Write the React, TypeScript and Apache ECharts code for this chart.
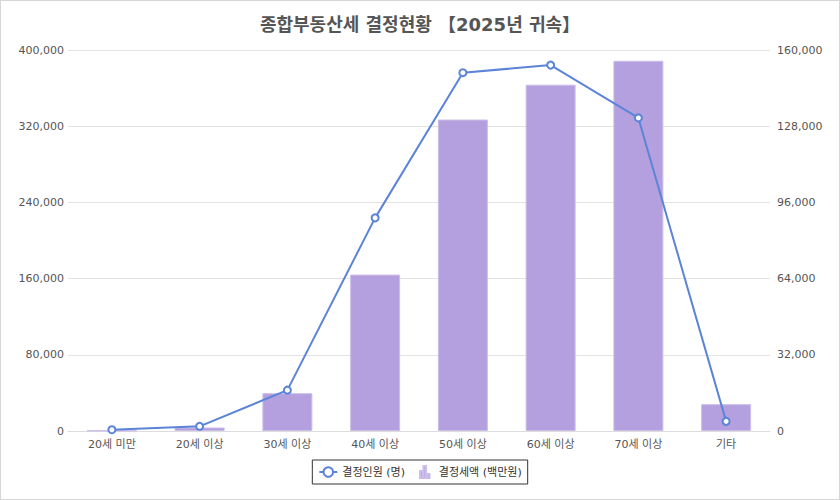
import React, { useEffect, useRef } from "react";
import * as echarts from "echarts";

const categories = ["20세 미만", "20세 이상", "30세 이상", "40세 이상", "50세 이상", "60세 이상", "70세 이상", "기타"];
// 결정세액 (백만원) - left axis
const taxAmount = [500, 3700, 39700, 164200, 327000, 363600, 388700, 28200];
// 결정인원 (명) - right axis
const persons = [540, 1970, 17150, 89500, 150470, 153650, 131480, 4050];
const leftTicks = { min: 0, max: 400000, interval: 80000 };
const rightTicks = { min: 0, max: 160000, interval: 32000 };

const FONT = "'DejaVu Sans', 'Noto Sans CJK KR', sans-serif";

export default function App() {
  const ref = useRef<HTMLDivElement>(null);
  useEffect(() => {
    document.body.style.margin = "0";
    const chart = echarts.init(ref.current!, undefined, { renderer: "svg" });
    const fmt = (v: number) => v.toLocaleString("en-US");
    chart.setOption({
      animation: false,
      backgroundColor: "#fff",
      textStyle: { fontFamily: FONT },
      title: {
        text: "종합부동산세 결정현황 【2025년 귀속】",
        left: "center",
        top: 9,
        textStyle: { fontFamily: FONT, fontSize: 18, fontWeight: "bold", color: "#555" },
      },
      grid: { left: 67, right: 69, top: 49, bottom: 68, containLabel: false },
      legend: {
        bottom: 15,
        left: "center",
        borderColor: "#333",
        borderWidth: 1,
        padding: [5, 6],
        itemGap: 14,
        itemWidth: 18,
        itemHeight: 12,
        textStyle: { fontFamily: FONT, fontSize: 11, color: "#333" },
        data: [
          { name: "결정인원 (명)" },
          {
            name: "결정세액 (백만원)",
            icon: "path://M0,12V5H2.5V12Z M3.5,12V0H6V12Z M7,12V8H9.5V12Z",
          },
        ],
      },
      xAxis: {
        type: "category",
        data: categories,
        axisLine: { show: true, lineStyle: { color: "#ddd" } },
        axisTick: { show: false },
        axisLabel: { color: "#555", fontSize: 11, margin: 8, fontFamily: FONT },
      },
      yAxis: [
        {
          type: "value",
          ...leftTicks,
          axisLine: { show: false },
          axisTick: { show: false },
          splitLine: { lineStyle: { color: "#e3e3e3" } },
          axisLabel: { color: "#555", fontSize: 11, margin: 4, formatter: fmt, fontFamily: FONT },
        },
        {
          type: "value",
          ...rightTicks,
          axisLine: { show: false },
          axisTick: { show: false },
          splitLine: { show: false },
          axisLabel: { color: "#555", fontSize: 11, margin: 7, formatter: fmt, fontFamily: FONT },
        },
      ],
      series: [
        {
          name: "결정인원 (명)",
          type: "line",
          yAxisIndex: 1,
          data: persons,
          z: 3,
          symbol: "emptyCircle",
          symbolSize: 7,
          color: "#5b84d8",
          lineStyle: { width: 2, color: "#5b84d8" },
          itemStyle: { color: "#5b84d8", borderWidth: 1.5 },
        },
        {
          name: "결정세액 (백만원)",
          type: "bar",
          yAxisIndex: 0,
          data: taxAmount,
          barWidth: 50,
          color: "#b4a0de",
          itemStyle: { color: "#b4a0de", borderColor: "#cbbdea", borderWidth: 1 },
        },
      ],
    });
    return () => chart.dispose();
  }, []);
  return (
    <div
      ref={ref}
      style={{
        position: "absolute",
        left: 0,
        top: 0,
        width: 840,
        height: 500,
        boxSizing: "border-box",
        border: "1px solid #d6d6d6",
      }}
    />
  );
}
